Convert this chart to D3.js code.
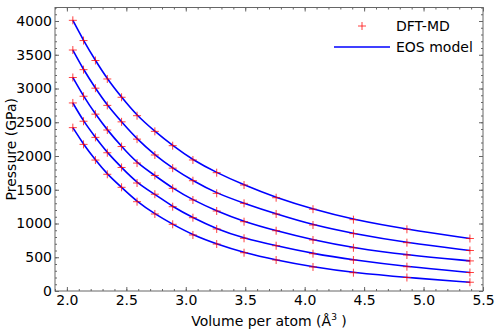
<!DOCTYPE html>
<html>
<head>
<meta charset="utf-8">
<script src="https://cdn.jsdelivr.net/npm/d3@7"></script>
<style>
  body { margin: 0; background: #fff; }
  text { font-family: "DejaVu Sans", sans-serif; }
</style>
</head>
<body>
<script>
"use strict";

// volume per atom (A^3)
const volumes = [2.05, 2.14, 2.24, 2.34, 2.46, 2.59, 2.74, 2.89, 3.06, 3.26, 3.49, 3.76, 4.07, 4.41, 4.86, 5.39];

// pressure (GPa), one list per isotherm, top to bottom
const curve1 = [4010, 3710, 3415, 3141, 2870, 2597, 2365, 2153, 1941, 1753, 1570, 1382, 1212, 1057, 914, 778];
const curve2 = [3570, 3279, 3005, 2750, 2506, 2250, 2015, 1820, 1634, 1447, 1299, 1141, 978, 850, 716, 600];
const curve3 = [3163, 2885, 2620, 2385, 2140, 1895, 1712, 1521, 1348, 1185, 1027, 893, 756, 640, 533, 446];
const curve4 = [2786, 2515, 2276, 2048, 1830, 1600, 1434, 1249, 1086, 919, 781, 671, 553, 459, 360, 274];
const curve5 = [2420, 2172, 1940, 1729, 1536, 1323, 1141, 988, 830, 696, 567, 459, 356, 271, 200, 130];

const curves = [curve1, curve2, curve3, curve4, curve5];

const xTicks = [2.0, 2.5, 3.0, 3.5, 4.0, 4.5, 5.0, 5.5];
const yTicks = [0, 500, 1000, 1500, 2000, 2500, 3000, 3500, 4000];

let width = 498, height = 332;
let mLeft = 55, mRight = 483, mTop = 7.5, mBottom = 291;
const fontSize = "14px";

let svg = d3
  .select("body")
  .append("svg")
  .attr("width", width)
  .attr("height", height);

let x = d3.scaleLinear().domain([1.9, 5.5]).range([mLeft, mRight]);
let y = d3.scaleLinear().domain([0, 4200]).range([mBottom, mTop]);

const frameColor = "#666";

// model lines
let line = d3
  .line()
  .x((d, i) => x(volumes[i]))
  .y(d => y(d))
  .curve(d3.curveBasis);

svg
  .append("g")
  .selectAll("path")
  .data(curves)
  .enter()
  .append("path")
  .attr("d", line)
  .attr("fill", "none")
  .attr("stroke", "#0000ff")
  .attr("stroke-width", 1.6);

// DFT-MD points
let pts = [];
curves.forEach(c => c.forEach((p, i) => pts.push([volumes[i], p])));

function plus(sel, s) {
  return sel.attr("d", `M${-s},0H${s}M0,${-s}V${s}`);
}

svg
  .append("g")
  .selectAll("path")
  .data(pts)
  .enter()
  .append("path")
  .attr("transform", d => `translate(${x(d[0])},${y(d[1])})`)
  .call(plus, 4)
  .attr("stroke", "#ff0000")
  .attr("stroke-opacity", 0.75)
  .attr("stroke-width", 1);

// axes, ticks inside on all sides
let xMinor = d3.range(19, 56).map(d => d / 10);
let yMinor = d3.range(0, 4201, 100);

let gx = svg.append("g").attr("transform", `translate(0,${mBottom})`)
  .call(d3.axisBottom(x).tickValues(xTicks).tickFormat(d3.format(".1f")).tickSizeInner(-4).tickSizeOuter(0).tickPadding(4));
let gxm = svg.append("g").attr("transform", `translate(0,${mBottom})`)
  .call(d3.axisBottom(x).tickValues(xMinor).tickFormat("").tickSizeInner(-2).tickSizeOuter(0));
let gxt = svg.append("g").attr("transform", `translate(0,${mTop})`)
  .call(d3.axisTop(x).tickValues(xTicks).tickFormat("").tickSizeInner(-4).tickSizeOuter(0));
let gxtm = svg.append("g").attr("transform", `translate(0,${mTop})`)
  .call(d3.axisTop(x).tickValues(xMinor).tickFormat("").tickSizeInner(-2).tickSizeOuter(0));

let gy = svg.append("g").attr("transform", `translate(${mLeft},0)`)
  .call(d3.axisLeft(y).tickValues(yTicks).tickFormat(d3.format("d")).tickSizeInner(-4).tickSizeOuter(0).tickPadding(3));
let gym = svg.append("g").attr("transform", `translate(${mLeft},0)`)
  .call(d3.axisLeft(y).tickValues(yMinor).tickFormat("").tickSizeInner(-2).tickSizeOuter(0));
let gyr = svg.append("g").attr("transform", `translate(${mRight},0)`)
  .call(d3.axisRight(y).tickValues(yTicks).tickFormat("").tickSizeInner(-4).tickSizeOuter(0));
let gyrm = svg.append("g").attr("transform", `translate(${mRight},0)`)
  .call(d3.axisRight(y).tickValues(yMinor).tickFormat("").tickSizeInner(-2).tickSizeOuter(0));

[gx, gxm, gxt, gxtm, gy, gym, gyr, gyrm].forEach(g => {
  g.select(".domain").remove();
  g.selectAll("line").attr("stroke", frameColor);
  g.selectAll("text")
    .attr("fill", "#000")
    .style("font-size", fontSize)
    .style("font-family", "DejaVu Sans, sans-serif");
});

svg
  .append("rect")
  .attr("x", mLeft)
  .attr("y", mTop)
  .attr("width", mRight - mLeft)
  .attr("height", mBottom - mTop)
  .attr("fill", "none")
  .attr("stroke", frameColor)
  .attr("stroke-width", 1);

// axis labels
let xl = svg
  .append("text")
  .attr("x", (mLeft + mRight) / 2)
  .attr("y", 326)
  .attr("text-anchor", "middle")
  .style("font-size", fontSize);
xl.append("tspan").text("Volume per atom (Å");
xl.append("tspan").attr("dy", -6).style("font-size", "9px").text("3");
xl.append("tspan").attr("dy", 6).text(" )");

svg
  .append("text")
  .attr("transform", `translate(16,${(mTop + mBottom) / 2}) rotate(-90)`)
  .attr("text-anchor", "middle")
  .style("font-size", fontSize)
  .text("Pressure (GPa)");

// legend
let legend = svg.append("g");
legend
  .append("path")
  .attr("transform", "translate(362,26)")
  .call(plus, 4)
  .attr("stroke", "#ff0000")
  .attr("stroke-opacity", 0.75);
legend
  .append("text")
  .attr("x", 396)
  .attr("y", 31)
  .style("font-size", fontSize)
  .text("DFT-MD");
legend
  .append("line")
  .attr("x1", 334)
  .attr("x2", 390)
  .attr("y1", 47)
  .attr("y2", 47)
  .attr("stroke", "#0000ff")
  .attr("stroke-width", 1.6);
legend
  .append("text")
  .attr("x", 396)
  .attr("y", 52)
  .style("font-size", fontSize)
  .text("EOS model");
</script>
</body>
</html>
